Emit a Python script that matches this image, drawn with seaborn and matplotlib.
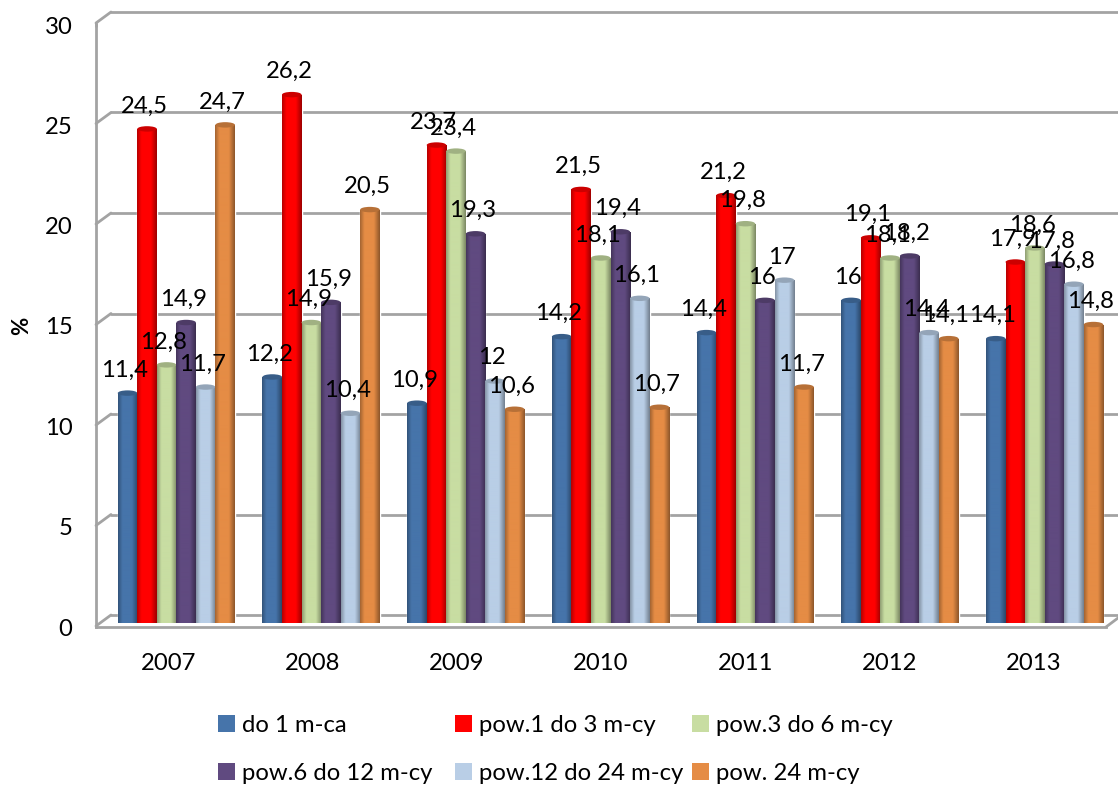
import numpy as np
import pandas as pd
import matplotlib.pyplot as plt
from matplotlib.lines import Line2D
from matplotlib.patches import Ellipse, Patch
import seaborn as sns

years = ["2007", "2008", "2009", "2010", "2011", "2012", "2013"]
series_names = ["do 1 m-ca", "pow.1 do 3 m-cy", "pow.3 do 6 m-cy",
                "pow.6 do 12 m-cy", "pow.12 do 24 m-cy", "pow. 24 m-cy"]
do_1 = [11.4, 12.2, 10.9, 14.2, 14.4, 16, 14.1]
pow_1_3 = [24.5, 26.2, 23.7, 21.5, 21.2, 19.1, 17.9]
pow_3_6 = [12.8, 14.9, 23.4, 18.1, 19.8, 18.1, 18.6]
pow_6_12 = [14.9, 15.9, 19.3, 19.4, 16, 18.2, 17.8]
pow_12_24 = [11.7, 10.4, 12, 16.1, 17, 14.4, 16.8]
pow_24 = [24.7, 20.5, 10.6, 10.7, 11.7, 14.1, 14.8]
colors = ["#4674AA", "#FF0000", "#C8DDA2", "#604A80", "#B9CEE6", "#E58C45"]
y_ticks = [0, 5, 10, 15, 20, 25, 30]

W, H = 1118, 785
GREY = "#A3A3A3"
FS = 17.2
LW = 2.0

sns.set_theme(style="white")
plt.rcParams['font.family'] = ['Lato', 'DejaVu Sans']

df = pd.DataFrame({"year": years, series_names[0]: do_1, series_names[1]: pow_1_3,
                   series_names[2]: pow_3_6, series_names[3]: pow_6_12,
                   series_names[4]: pow_12_24, series_names[5]: pow_24})
long_df = df.melt(id_vars="year", var_name="series", value_name="value")


def px_axes(fig, left, top, right, bottom):
    # axes placed by its pixel box in the picture
    ax = fig.add_axes([left / W, 1 - bottom / H, (right - left) / W, (bottom - top) / H])
    ax.patch.set_alpha(0)
    return ax


def px_line(fig, x0, y0, x1, y1):
    fig.add_artist(Line2D([x0 / W, x1 / W], [1 - y0 / H, 1 - y1 / H], color=GREY, lw=LW,
                          solid_capstyle="round"))


def cylinder_shade(color):
    # dark edges, lit middle, as in the 3D cylinders
    pos = np.linspace(0, 1, 40)
    factor = np.interp(pos, [0, 0.22, 0.7, 1], [0.72, 1.0, 1.0, 0.62])
    rgb = np.array(plt.matplotlib.colors.to_rgb(color))
    return np.clip(factor[None, :, None] * rgb[None, None, :], 0, 1)


fig = plt.figure(figsize=(W / 100, H / 100), dpi=100)

# back wall with the grid
wall = px_axes(fig, 111, 12, 1118, 615)
wall.set_ylim(0, 30)
wall.set_yticks(y_ticks)
wall.set_xticks([])
wall.tick_params(left=False, labelleft=False)
wall.grid(axis="y", color=GREY, lw=LW)
for line in wall.get_ygridlines():
    line.set_clip_on(False)
sns.despine(ax=wall, left=True, bottom=True, right=True, top=True)

# front axis: tick labels and frame
front = px_axes(fig, 96, 25, 1106, 627)
front.set_xlim(-0.5, 6.5)
front.set_ylim(0, 30)
front.set_xticks(range(len(years)), years, fontsize=FS, color="black")
front.set_yticks(y_ticks, [str(v) for v in y_ticks], fontsize=FS, color="black")
front.tick_params(axis="x", length=0, pad=19)
front.tick_params(axis="y", length=0, pad=17)
front.set_ylabel("%", fontsize=16, fontweight="bold", color="black", labelpad=9)
sns.despine(ax=front, right=True, top=True)
for side in ["left", "bottom"]:
    front.spines[side].set_color(GREY)
    front.spines[side].set_linewidth(LW)

for v in y_ticks:
    y_back = 615 - v * 20.1
    px_line(fig, 96, y_back + 11, 111, y_back)
px_line(fig, 96, 23, 96, 26)
px_line(fig, 1106, 627, 1118, 618)

# bars
ax = px_axes(fig, 104, 18, 1117, 623)
sns.barplot(data=long_df, x="year", y="value", hue="series", order=years,
            hue_order=series_names, palette=colors, width=0.81, gap=0, dodge=True,
            saturation=1, legend=False, ax=ax)
ax.set_xlim(-0.5, 6.5)
ax.set_ylim(0, 30)
ax.axis("off")

z = 3
cap_h = 0.27
for container, color in zip(ax.containers, colors):
    shade = cylinder_shade(color)
    cap_rgb = tuple(0.8 * c for c in plt.matplotlib.colors.to_rgb(color))
    for bar in container:
        x, w, h = bar.get_x(), bar.get_width(), bar.get_height()
        bar.set_facecolor("none")
        bottom_cap = Ellipse((x + w / 2, 0), w, cap_h, transform=ax.transData, fc="none", ec="none", clip_on=False)
        ax.add_patch(bottom_cap)
        for clip in (bar, bottom_cap):
            im = ax.imshow(shade, extent=(x, x + w, -cap_h, h), aspect="auto",
                           interpolation="bilinear", zorder=z, clip_on=True)
            im.set_clip_path(clip)
        ax.add_patch(Ellipse((x + w / 2, h), w, cap_h, fc=cap_rgb, ec="none", zorder=z + 0.5, clip_on=False))
        z += 1
ax.set_xlim(-0.5, 6.5)
ax.set_ylim(0, 30)

# value labels with decimal commas
for container, values in zip(ax.containers, [do_1, pow_1_3, pow_3_6, pow_6_12, pow_12_24, pow_24]):
    labels = [f"{v:g}".replace(".", ",") for v in values]
    texts = ax.bar_label(container, labels=labels, padding=9, fontsize=FS, color="black")
    for t in texts:
        t.xyann = (-2, 9)
        t.set_zorder(500)
        t.set_clip_on(False)

# legend, one block per column so the columns keep even spacing
handles = [Patch(fc=c, ec="none") for c in colors]
col_x = [218, 455, 692]
for i, left in enumerate(col_x):
    idx = [i, i + 3]
    fig.legend([handles[k] for k in idx], [series_names[k] for k in idx],
               loc="upper left", bbox_to_anchor=(left / W, 1 - 715 / H), frameon=False,
               fontsize=FS, borderpad=0, borderaxespad=0, handlelength=0.7, handletextpad=0.3,
               labelspacing=1.13, labelcolor="black")

plt.savefig("out.png", dpi=100)
